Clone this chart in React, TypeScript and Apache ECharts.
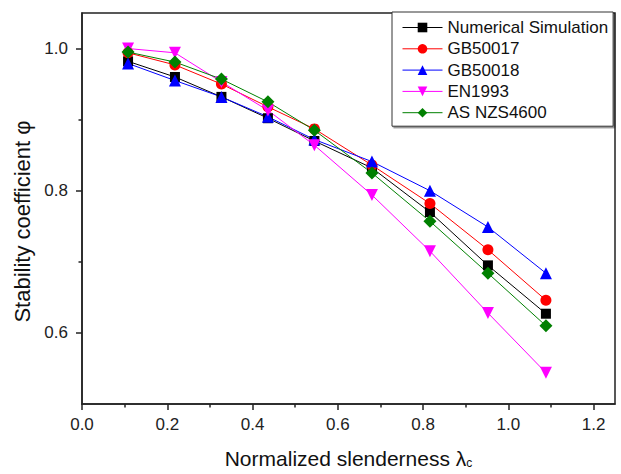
import React, { useEffect, useRef } from "react";
import * as echarts from "echarts";

const xValues = [0.108, 0.218, 0.327, 0.436, 0.545, 0.68, 0.816, 0.952, 1.088];
const numerical = [0.982, 0.96, 0.932, 0.902, 0.87, 0.832, 0.77, 0.695, 0.627];
const gb50017 = [0.994, 0.977, 0.95, 0.918, 0.887, 0.836, 0.782, 0.717, 0.646];
const gb50018 = [0.979, 0.955, 0.932, 0.904, 0.872, 0.841, 0.8, 0.749, 0.684];
const en1993 = [1.0, 0.994, 0.953, 0.913, 0.864, 0.794, 0.715, 0.628, 0.544];
const asnzs4600 = [0.995, 0.981, 0.957, 0.925, 0.885, 0.825, 0.757, 0.684, 0.61];

const xMajorTicks = [0, 0.2, 0.4, 0.6, 0.8, 1.0, 1.2];
const xMinorTicks = [0.1, 0.3, 0.5, 0.7, 0.9, 1.1];
const yMajorTicks = [0.6, 0.8, 1.0];
const yMinorTicks = [0.7, 0.9];

const FONT = "Liberation Sans, Arial, sans-serif";

const pair = (ys: number[]) => xValues.map((x, i) => [x, ys[i]]);

export default function App() {
  const ref = useRef<HTMLDivElement>(null);
  useEffect(() => {
    if (!ref.current) return;
    const chart = echarts.init(ref.current, undefined, { renderer: "svg" });
    const seriesDefs = [
      { name: "Numerical Simulation", data: numerical, color: "#000000", symbol: "rect", size: 10, rotate: 0 },
      { name: "GB50017", data: gb50017, color: "#ff0000", symbol: "circle", size: 11, rotate: 0 },
      { name: "GB50018", data: gb50018, color: "#0000ff", symbol: "triangle", size: 12, rotate: 0 },
      { name: "EN1993", data: en1993, color: "#ff00ff", symbol: "triangle", size: 12, rotate: 180 },
      { name: "AS NZS4600", data: asnzs4600, color: "#008000", symbol: "diamond", size: 13, rotate: 0 },
    ];
    const axisLineStyle = { color: "#222", width: 1.5 };
    chart.setOption({
      animation: false,
      backgroundColor: "#ffffff",
      grid: {
        left: 82,
        top: 13,
        right: 6,
        bottom: 67,
        show: true,
        borderColor: "#222",
        borderWidth: 1.5,
        backgroundColor: "transparent",
      },
      legend: {
        orient: "vertical",
        left: 392,
        top: 12,
        padding: [7, 5, 5, 10],
        itemGap: 4.3,
        itemWidth: 40,
        itemHeight: 12,
        borderColor: "#333",
        borderWidth: 1,
        backgroundColor: "#fff",
        shadowColor: "rgba(0,0,0,0.45)",
        shadowOffsetX: 1.5,
        shadowOffsetY: 1.5,
        shadowBlur: 0,
        lineStyle: { width: 1 },
        textStyle: { fontFamily: FONT, fontSize: 17, color: "#111" },
        data: seriesDefs.map((s) => s.name),
      },
      xAxis: [
        {
          type: "value",
          min: 0,
          max: 1.25,
          name: "{a|Normalized slenderness λ}{sub|c}",
          nameLocation: "middle",
          nameGap: 43,
          nameTextStyle: {
            fontFamily: FONT,
            fontSize: 21,
            color: "#111",
            rich: {
              a: { fontFamily: FONT, fontSize: 21, color: "#111" },
              sub: { fontFamily: FONT, fontSize: 12, color: "#111", padding: [10, 0, 0, 0] },
            },
          },
          axisLine: { show: true, onZero: false, lineStyle: axisLineStyle },
          axisTick: { show: true, length: 6, customValues: xMajorTicks, lineStyle: { color: "#222", width: 1.5 } },
          axisLabel: {
            customValues: xMajorTicks,
            margin: 12,
            fontFamily: FONT,
            fontSize: 17,
            color: "#222",
            formatter: (v: number) => v.toFixed(1),
          },
          splitLine: { show: false },
        },
        {
          type: "value",
          min: 0,
          max: 1.25,
          position: "bottom",
          axisLine: { show: false },
          axisTick: { show: true, length: 3.5, customValues: xMinorTicks, lineStyle: { color: "#222", width: 1.5 } },
          axisLabel: { show: false },
          splitLine: { show: false },
        },
      ],
      yAxis: [
        {
          type: "value",
          min: 0.5,
          max: 1.05,
          name: "Stability coefficient φ",
          nameLocation: "middle",
          nameGap: 47,
          nameTextStyle: { fontFamily: FONT, fontSize: 22, color: "#111", padding: [0, 26, 0, 0] },
          axisLine: { show: true, onZero: false, lineStyle: axisLineStyle },
          axisTick: { show: true, length: 6, customValues: yMajorTicks, lineStyle: { color: "#222", width: 1.5 } },
          axisLabel: {
            customValues: yMajorTicks,
            margin: 14,
            fontFamily: FONT,
            fontSize: 17,
            color: "#222",
            formatter: (v: number) => v.toFixed(1),
          },
          splitLine: { show: false },
        },
        {
          type: "value",
          min: 0.5,
          max: 1.05,
          position: "left",
          axisLine: { show: false },
          axisTick: { show: true, length: 3.5, customValues: yMinorTicks, lineStyle: { color: "#222", width: 1.5 } },
          axisLabel: { show: false },
          splitLine: { show: false },
        },
      ],
      series: seriesDefs.map((s) => ({
        name: s.name,
        type: "line",
        data: pair(s.data),
        symbol: s.symbol,
        symbolSize: s.size,
        symbolRotate: s.rotate,
        showAllSymbol: true,
        color: s.color,
        lineStyle: { color: s.color, width: 1 },
        itemStyle: { color: s.color },
      })),
    });
    return () => chart.dispose();
  }, []);
  return (
    <div
      ref={ref}
      style={{ position: "fixed", left: 0, top: 0, width: 621, height: 474, background: "#fff" }}
    />
  );
}
